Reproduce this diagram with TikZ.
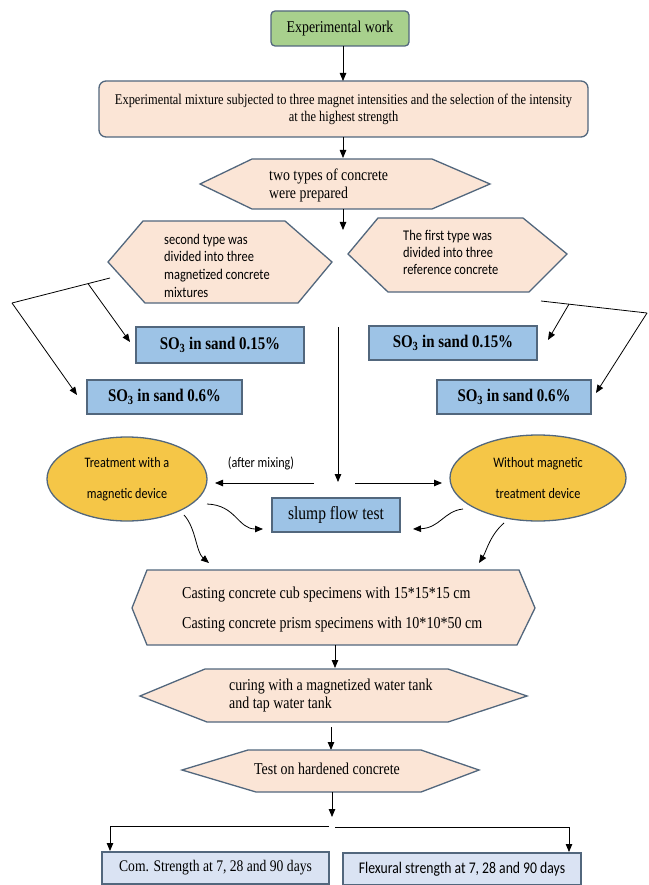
\documentclass[tikz,border=0pt]{standalone}
\usepackage{fontspec}
\setmainfont{Liberation Serif}[FakeStretch=0.84]
\newfontfamily\calfont{Carlito}[FakeStretch=0.84]
\usetikzlibrary{arrows.meta,shapes.geometric}
\definecolor{bord}{HTML}{52677D}
\definecolor{greenfill}{HTML}{A8D08D}
\definecolor{peach}{HTML}{FBE5D6}
\definecolor{bluefill}{HTML}{9DC3E6}
\definecolor{lightblue}{HTML}{DAE3F3}
\definecolor{gold}{HTML}{F5C647}
\begin{document}
\begin{tikzpicture}[x=1pt,y=-1pt,
  arr/.style={-{Triangle[length=8pt,width=6.5pt]}, line width=0.8pt},
  ln/.style={line width=0.8pt},
  rbox/.style={draw=bord, line width=1.3pt, inner sep=0pt},
  hexa/.style={draw=bord, line width=1.3pt, fill=peach},
  so/.style={rbox, fill=bluefill, font=\fontsize{17.8}{20}\selectfont\bfseries},
  ell/.style={ellipse, draw=bord, line width=1.3pt, fill=gold, inner sep=0pt, align=center,
    font=\calfont\fontsize{14.5}{31}\selectfont},
  hextext/.style={anchor=west, align=left, inner sep=0pt}
]
\useasboundingbox (0,0) rectangle (648,885);

% top
\node[rbox, fill=greenfill, rounded corners=4pt, minimum width=138pt, minimum height=35pt,
  font=\fontsize{16.5}{19}\selectfont] (work) at (340,28.5) {Experimental work};
\node[rbox, fill=peach, rounded corners=7pt, minimum width=489pt, minimum height=56pt, align=center,
  font=\fontsize{14.8}{17}\selectfont] (mix) at (343.5,109)
  {Experimental mixture subjected to three magnet intensities and the selection of the intensity\\at the highest strength};
\coordinate (a1s) at (343,46);
\coordinate (a1e) at (343,81);
\draw[arr] (a1s) -- (a1e);
\coordinate (a2s) at (343,137);
\coordinate (a2e) at (343,158);
\draw[arr] (a2s) -- (a2e);

% two types hexagon
\draw[hexa] (200,184) -- (252,159) -- (432,159) -- (490,184) -- (432,209) -- (252,209) -- cycle;
\node[hextext, font=\fontsize{16.5}{18}\selectfont] (two) at (269,185) {two types of concrete\\were prepared};
\coordinate (a3s) at (343,209);
\coordinate (a3e) at (343,230);
\draw[arr] (a3s) -- (a3e);

% second / first type hexagons
\draw[hexa] (108,262) -- (143,221) -- (285,221) -- (332,262) -- (298,303) -- (145,303) -- cycle;
\node[hextext, font=\calfont\fontsize{14.8}{17.7}\selectfont] (second) at (164,265.5)
  {second type was\\divided into three\\magnetized concrete\\mixtures};
\draw[hexa] (348,254) -- (378,218) -- (523,218) -- (567,254) -- (529,292) -- (388,292) -- cycle;
\node[hextext, font=\calfont\fontsize{14.8}{17}\selectfont] (first) at (403,252)
  {The first type was\\divided into three\\reference concrete};

% SO3 boxes
\node[so, minimum width=168pt, minimum height=36pt] (l015) at (220,345) {SO\textsubscript{3} in sand 0.15\%};
\node[so, minimum width=155pt, minimum height=34pt] (l06) at (164.5,397) {SO\textsubscript{3} in sand 0.6\%};
\node[so, minimum width=168pt, minimum height=34pt] (r015) at (453,343) {SO\textsubscript{3} in sand 0.15\%};
\node[so, minimum width=154pt, minimum height=34pt] (r06) at (514,397) {SO\textsubscript{3} in sand 0.6\%};

% left branch lines
\coordinate (lA) at (110,278);
\coordinate (lB) at (12,303);
\coordinate (lC) at (88,283.6);
\coordinate (lCe) at (130,342);
\coordinate (lBe) at (77,395);
\draw[ln] (lA) -- (lB);
\draw[arr] (lC) -- (lCe);
\draw[arr] (lB) -- (lBe);

% right branch lines
\coordinate (rA) at (541,301);
\coordinate (rB) at (647,313);
\coordinate (rC) at (569,304.1);
\coordinate (rCe) at (548,340);
\coordinate (rBe) at (596,393);
\draw[ln] (rA) -- (rB);
\draw[arr] (rC) -- (rCe);
\draw[arr] (rB) -- (rBe);

% vertical line and after mixing
\coordinate (vs) at (338,327);
\coordinate (ve) at (338,482);
\draw[arr] (vs) -- (ve);
\coordinate (ml) at (314,483);
\coordinate (mle) at (215,483);
\coordinate (mr) at (355,483);
\coordinate (mre) at (442,483);
\draw[arr] (ml) -- (mle);
\draw[arr] (mr) -- (mre);
\node[font=\calfont\fontsize{14.5}{17}\selectfont, inner sep=0pt] (after) at (261,463) {(after mixing)};

% ellipses
\node[ell, minimum width=160pt, minimum height=84pt] (treat) at (127,479) {Treatment with a\\magnetic device};
\node[ell, minimum width=176pt, minimum height=86pt] (without) at (538,478) {Without magnetic\\treatment device};

% slump
\node[rbox, fill=bluefill, minimum width=128pt, minimum height=34pt, font=\fontsize{18.5}{20}\selectfont]
  (slump) at (336,515) {slump flow test};

% curved arrows
\coordinate (c1s) at (207,504);
\coordinate (c1e) at (263,529);
\draw[arr] (c1s) .. controls (236,505) and (238,529) .. (c1e);
\coordinate (c2s) at (463,509);
\coordinate (c2e) at (413,529);
\draw[arr] (c2s) .. controls (444,511) and (440,528) .. (c2e);
\coordinate (c3s) at (184,515);
\coordinate (c3e) at (209,563);
\draw[arr] (c3s) .. controls (196,528) and (196,552) .. (c3e);
\coordinate (c4s) at (504,523);
\coordinate (c4e) at (479,563);
\draw[arr] (c4s) .. controls (490,535) and (486,552) .. (c4e);

% casting hexagon
\draw[hexa] (132,608) -- (147,570) -- (519,570) -- (535,608) -- (517,645) -- (147,645) -- cycle;
\node[hextext, font=\fontsize{16.7}{30}\selectfont] (cast) at (182,610)
  {Casting concrete cub specimens with 15*15*15 cm\\Casting concrete prism specimens with 10*10*50 cm};
\coordinate (a4s) at (335,645);
\coordinate (a4e) at (335,668);
\draw[arr] (a4s) -- (a4e);

% curing hexagon
\draw[hexa] (140,696) -- (205,669) -- (448,669) -- (527,696) -- (448,722) -- (207,722) -- cycle;
\node[hextext, font=\fontsize{16.6}{17.5}\selectfont] (cure) at (229,695.5)
  {curing with a magnetized water tank\\and tap water tank};
\coordinate (a5s) at (331,727);
\coordinate (a5e) at (331,750);
\draw[arr] (a5s) -- (a5e);

% test hexagon
\draw[hexa] (182,770) -- (248,750) -- (421,750) -- (479,770) -- (421,792) -- (256,792) -- cycle;
\node[font=\fontsize{16.6}{19}\selectfont, inner sep=0pt] (test) at (327,769) {Test on hardened concrete};
\coordinate (a6s) at (332,792);
\coordinate (a6e) at (332,817);
\draw[arr] (a6s) -- (a6e);

% split
\coordinate (sl) at (329,826);
\coordinate (slc) at (110,826);
\coordinate (sle) at (110,851);
\coordinate (sr) at (335,827);
\coordinate (src) at (569,827);
\coordinate (sre) at (569,852);
\draw[arr] (sl) -- (slc) -- (sle);
\draw[arr] (sr) -- (src) -- (sre);

% bottom boxes
\node[rbox, fill=lightblue, minimum width=227pt, minimum height=32pt, font=\fontsize{16.2}{19}\selectfont]
  (com) at (215.5,868) {Com. Strength at 7, 28 and 90 days};
\node[rbox, fill=lightblue, minimum width=238pt, minimum height=32pt, font=\calfont\fontsize{16.3}{19}\selectfont]
  (flex) at (462,869) {Flexural strength at 7, 28 and 90 days};
\end{tikzpicture}
\end{document}
